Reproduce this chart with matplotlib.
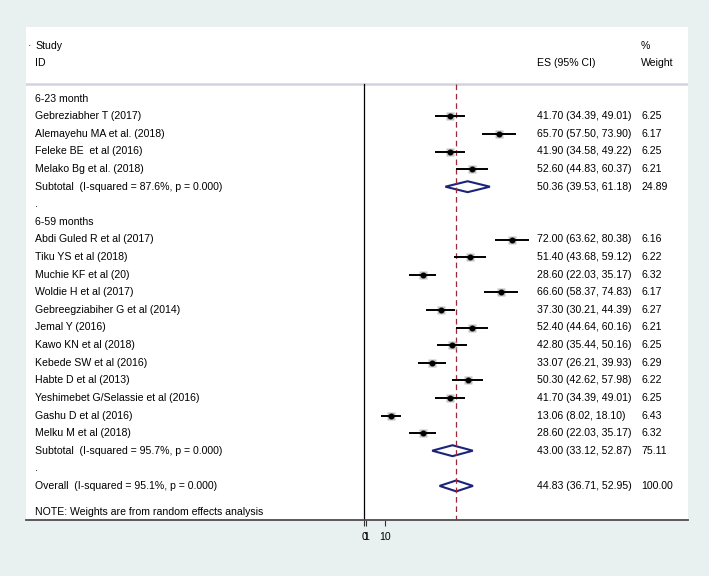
# Forest plot: prevalence estimates by age group (random effects meta-analysis)
# Recreated as a Stata-style forest plot with matplotlib.

import matplotlib
matplotlib.use("Agg")
import matplotlib.pyplot as plt
from matplotlib.patches import Polygon

plt.rcParams['font.family'] = ['Liberation Sans', 'DejaVu Sans']

# Group 1: 6-23 month
GROUP1_TITLE = "6-23 month"
GROUP1_STUDIES = ["Gebreziabher T (2017)", "Alemayehu MA et al. (2018)",
                  "Feleke BE  et al (2016)", "Melako Bg et al. (2018)"]
GROUP1_ES = [41.70, 65.70, 41.90, 52.60]
GROUP1_LOW = [34.39, 57.50, 34.58, 44.83]
GROUP1_HIGH = [49.01, 73.90, 49.22, 60.37]
GROUP1_WEIGHT = [6.25, 6.17, 6.25, 6.21]

# Group 2: 6-59 months
GROUP2_TITLE = "6-59 months"
GROUP2_STUDIES = ["Abdi Guled R et al (2017)", "Tiku YS et al (2018)", "Muchie KF et al (20)",
                  "Woldie H et al (2017)", "Gebreegziabiher G et al (2014)", "Jemal Y (2016)",
                  "Kawo KN et al (2018)", "Kebede SW et al (2016)", "Habte D et al (2013)",
                  "Yeshimebet G/Selassie et al (2016)", "Gashu D et al (2016)", "Melku M et al (2018)"]
GROUP2_ES = [72.00, 51.40, 28.60, 66.60, 37.30, 52.40, 42.80, 33.07, 50.30, 41.70, 13.06, 28.60]
GROUP2_LOW = [63.62, 43.68, 22.03, 58.37, 30.21, 44.64, 35.44, 26.21, 42.62, 34.39, 8.02, 22.03]
GROUP2_HIGH = [80.38, 59.12, 35.17, 74.83, 44.39, 60.16, 50.16, 39.93, 57.98, 49.01, 18.10, 35.17]
GROUP2_WEIGHT = [6.16, 6.22, 6.32, 6.17, 6.27, 6.21, 6.25, 6.29, 6.22, 6.25, 6.43, 6.32]

# Pooled estimates: subtotal group 1, subtotal group 2, overall
POOLED_LABELS = ["Subtotal  (I-squared = 87.6%, p = 0.000)",
                 "Subtotal  (I-squared = 95.7%, p = 0.000)",
                 "Overall  (I-squared = 95.1%, p = 0.000)"]
POOLED_ES = [50.36, 43.00, 44.83]
POOLED_LOW = [39.53, 33.12, 36.71]
POOLED_HIGH = [61.18, 52.87, 52.95]
POOLED_WEIGHT = [24.89, 75.11, 100.00]

X_TICKS = [0, 1, 10]
X_TICK_LABELS = ["0", "1", "10"]

# Colours (Stata s2color look)
BG = "#e8f0f0"
NAVY = "#1c237a"
MAROON = "#9a2a3a"

# Layout in pixels of the 709x576 output
W, H = 709, 576
BOX_L, BOX_R, BOX_T, BOX_B = 26, 688, 27, 520
ZERO_PX, PX_PER_UNIT = 364, 2.058
ROW0_PX, ROW_PX = 116.3, 17.6


def px_x(px):
    # pixel column -> effect size units
    return (px - ZERO_PX) / PX_PER_UNIT


def px_row(px):
    # pixel row -> row units
    return (px - ROW0_PX) / ROW_PX


fig = plt.figure(figsize=(W / 100, H / 100), dpi=100, facecolor=BG)
ax = fig.add_axes([BOX_L / W, (H - BOX_B) / H, (BOX_R - BOX_L) / W, (BOX_B - BOX_T) / H])
ax.set_facecolor("white")
ax.set_xlim(px_x(BOX_L), px_x(BOX_R))
ax.set_ylim(px_row(BOX_B), px_row(BOX_T))

FS = 7.6
X_LABEL = px_x(35)
X_ES = px_x(537)
X_W = px_x(641)

# Header
ax.text(px_x(27.5), -4, "·", fontsize=FS, va="center")
ax.text(X_LABEL, -4, "Study", fontsize=FS, va="center")
ax.text(X_LABEL, -3, "ID", fontsize=FS, va="center")
ax.text(X_ES, -3, "ES (95% CI)", fontsize=FS, va="center")
ax.text(X_W, -4, "%", fontsize=FS, va="center")
ax.text(X_W, -3, "Weight", fontsize=FS, va="center")
sep = px_row(84)
ax.axhline(sep, color="#d3d3df", lw=1.8)

# Null line and overall estimate line
y_bottom = px_row(BOX_B)
ax.plot([0, 0], [sep, y_bottom], color="black", lw=0.9)
ax.plot([POOLED_ES[2]] * 2, [sep, y_bottom], color=MAROON, lw=0.9, dashes=(4.5, 3))


def draw_diamond(y, es, lo, hi, label, weight):
    h = 0.31
    ax.add_patch(Polygon([(lo, y), (es, y - h), (hi, y), (es, y + h)], closed=True,
                         fill=False, edgecolor=NAVY, lw=1.5, joinstyle="miter"))
    ax.text(X_LABEL, y, label, fontsize=FS, va="center")
    ax.text(X_ES, y, f"{es:.2f} ({lo:.2f}, {hi:.2f})", fontsize=FS, va="center")
    ax.text(X_W, y, f"{weight:.2f}", fontsize=FS, va="center")


groups = [
    (GROUP1_TITLE, GROUP1_STUDIES, GROUP1_ES, GROUP1_LOW, GROUP1_HIGH, GROUP1_WEIGHT),
    (GROUP2_TITLE, GROUP2_STUDIES, GROUP2_ES, GROUP2_LOW, GROUP2_HIGH, GROUP2_WEIGHT),
]

row = -1
for g, (title, studies, es_list, lo_list, hi_list, w_list) in enumerate(groups):
    ax.text(X_LABEL, row, title, fontsize=FS, va="center")
    row += 1
    for name, es, lo, hi, w in zip(studies, es_list, lo_list, hi_list, w_list):
        ax.plot(es, row, marker="s", ms=6.3 * (w / 6.25) ** 0.5, color="#c2c2c2", mec="none")
        ax.plot([lo, hi], [row, row], color="black", lw=1.4, solid_capstyle="butt")
        ax.plot(es, row, marker="o", ms=3.3, color="black")
        ax.text(X_LABEL, row, name, fontsize=FS, va="center")
        ax.text(X_ES, row, f"{es:.2f} ({lo:.2f}, {hi:.2f})", fontsize=FS, va="center")
        ax.text(X_W, row, f"{w:.2f}", fontsize=FS, va="center")
        row += 1
    draw_diamond(row, POOLED_ES[g], POOLED_LOW[g], POOLED_HIGH[g], POOLED_LABELS[g], POOLED_WEIGHT[g])
    row += 1
    ax.text(X_LABEL, row, ".", fontsize=FS, va="center")
    row += 1

# Overall
draw_diamond(row, POOLED_ES[2], POOLED_LOW[2], POOLED_HIGH[2], POOLED_LABELS[2], POOLED_WEIGHT[2])
ax.text(X_LABEL, row + 1.5, "NOTE: Weights are from random effects analysis", fontsize=FS, va="center")

# Axis styling
for side in ("top", "left", "right"):
    ax.spines[side].set_visible(False)
ax.spines["bottom"].set_color("#4d4d4d")
ax.spines["bottom"].set_linewidth(1.3)
ax.set_yticks([])
ax.set_xticks(X_TICKS)
ax.set_xticklabels(X_TICK_LABELS)
ax.tick_params(axis="x", length=4.5, width=0.8, pad=4, labelsize=FS, color="#333333")

fig.savefig("out.png", dpi=100, facecolor=BG)
